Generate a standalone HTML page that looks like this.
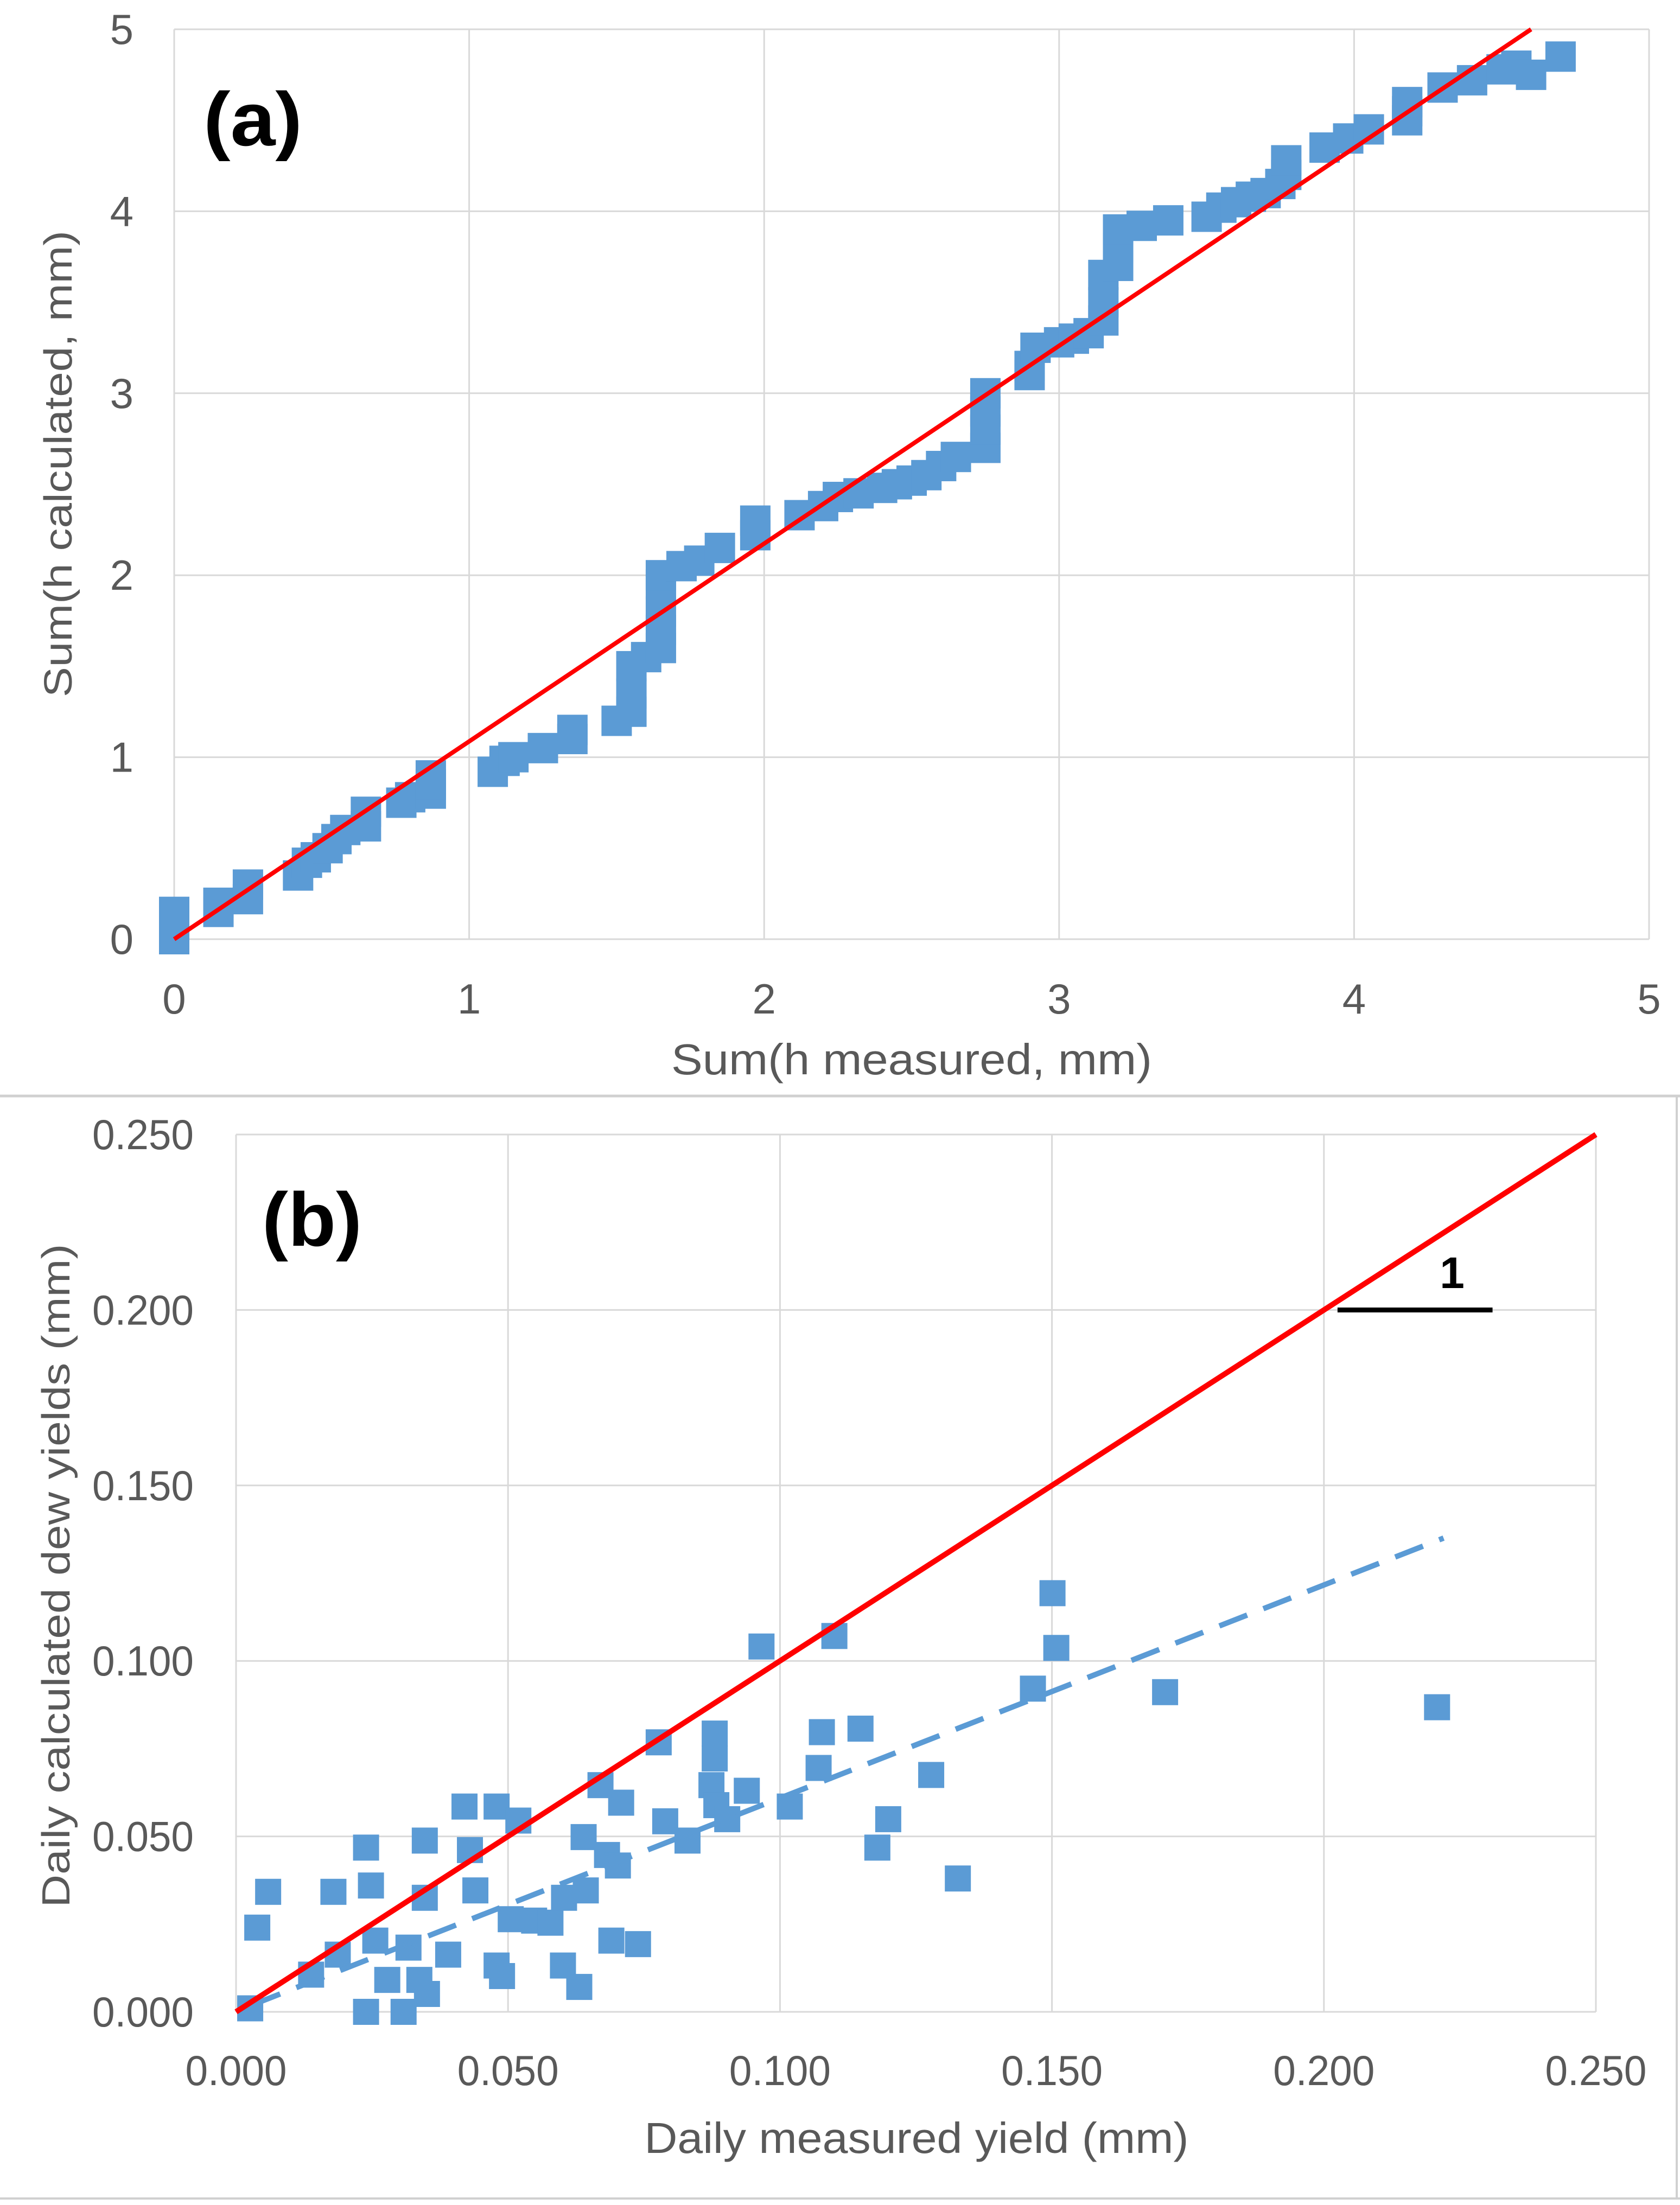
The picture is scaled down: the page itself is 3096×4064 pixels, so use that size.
<!DOCTYPE html>
<html><head><meta charset="utf-8"><style>
html,body{margin:0;padding:0;background:#fff;}
svg{display:block;}
text{font-family:"Liberation Sans Narrow","Liberation Sans",sans-serif;}
</style></head><body>
<svg id="chart" xmlns="http://www.w3.org/2000/svg" width="3096" height="4064" viewBox="0 0 3096 4064">
<rect x="0" y="0" width="3096" height="4064" fill="#fff"/>
<line x1="0" y1="2020" x2="3096" y2="2020" stroke="#d0d0d0" stroke-width="5"/>
<line x1="3090" y1="2020" x2="3090" y2="4052" stroke="#d0d0d0" stroke-width="4"/>
<line x1="0" y1="4052" x2="3096" y2="4052" stroke="#d0d0d0" stroke-width="4"/>
<g id="pa"></g>
<g id="pb"></g>
</svg>
<script>
// Panel (a) data
const aTicks = [0,1,2,3,4,5];
const aX = [0,0,0,0,0.15,0.15,0.25,0.25,0.42,0.45,0.48,0.52,0.55,0.58,0.65,0.65,0.77,0.8,0.87,0.87,0.87,1.08,1.12,1.15,1.25,1.35,1.35,1.5,1.55,1.55,1.55,1.6,1.65,1.65,1.65,1.65,1.65,1.72,1.78,1.85,1.97,1.97,2.12,2.2,2.25,2.32,2.4,2.45,2.5,2.55,2.6,2.65,2.75,2.75,2.75,2.75,2.9,2.9,2.92,3.0,3.05,3.1,3.15,3.15,3.15,3.2,3.2,3.2,3.28,3.37,3.5,3.55,3.6,3.65,3.7,3.75,3.77,3.77,3.9,3.98,4.05,4.18,4.18,4.18,4.3,4.4,4.5,4.55,4.6,4.7];
const aY = [0,0.05,0.1,0.15,0.15,0.2,0.22,0.3,0.35,0.42,0.45,0.5,0.55,0.6,0.62,0.7,0.75,0.78,0.8,0.85,0.9,0.92,0.98,1.0,1.05,1.1,1.15,1.2,1.25,1.35,1.5,1.55,1.6,1.7,1.8,1.95,2.0,2.05,2.08,2.15,2.22,2.3,2.33,2.38,2.43,2.45,2.48,2.5,2.52,2.55,2.6,2.65,2.7,2.8,2.9,3.0,3.1,3.15,3.25,3.28,3.3,3.33,3.4,3.5,3.65,3.7,3.8,3.9,3.92,3.95,3.97,4.02,4.05,4.08,4.1,4.15,4.2,4.28,4.35,4.4,4.45,4.5,4.55,4.6,4.68,4.72,4.78,4.8,4.75,4.85];
const aLine = [0,4.6];
const aLineY = [0,5];
// Panel (b) data
const bTicks = [0,0.05,0.1,0.15,0.2,0.25];
const bTickLabels = ["0.000","0.050","0.100","0.150","0.200","0.250"];
const bX = [0.0026,0.0039,0.0059,0.0138,0.0179,0.0187,0.0239,0.0239,0.0248,0.0256,0.0278,0.0308,0.0317,0.0337,0.0347,0.0347,0.0351,0.0390,0.0420,0.0430,0.0440,0.0479,0.0479,0.0489,0.0505,0.0519,0.0548,0.0578,0.0601,0.0603,0.0631,0.0639,0.0643,0.0670,0.0682,0.0690,0.0702,0.0708,0.0739,0.0777,0.0789,0.0830,0.0874,0.0880,0.0880,0.0883,0.0903,0.0939,0.0966,0.1018,0.1071,0.1077,0.1100,0.1148,0.1179,0.1199,0.1278,0.1327,0.1465,0.1501,0.1508,0.1708,0.2208];
const bY = [0.0010,0.0240,0.0342,0.0106,0.0342,0.0163,0.0468,0.0,0.0360,0.0203,0.0091,0.0,0.0183,0.0091,0.0488,0.0325,0.0051,0.0163,0.0585,0.0461,0.0346,0.0132,0.0585,0.0102,0.0264,0.0545,0.0260,0.0254,0.0132,0.0325,0.0071,0.0498,0.0346,0.0646,0.0447,0.0203,0.0417,0.0596,0.0193,0.0768,0.0543,0.0488,0.0646,0.0793,0.0722,0.0589,0.0549,0.0630,0.1041,0.0585,0.0695,0.0797,0.1071,0.0807,0.0468,0.0549,0.0675,0.0380,0.0921,0.1193,0.1037,0.0911,0.0868];
const bTrendX = [0.003,0.222];
const bTrendY = [0.002,0.135];
const bOneX = [0.0,0.25];
const bRefX = [0.2025,0.231];
const bRefY = [0.2,0.2];

const NS="http://www.w3.org/2000/svg";
function mk(parent,tag,attrs,txt){const e=document.createElementNS(NS,tag);for(const k in attrs)e.setAttribute(k,attrs[k]);if(txt!==undefined)e.textContent=txt;parent.appendChild(e);return e;}

// ---- Panel A ----
const pa=document.getElementById('pa');
const ax=v=>321+v*(3039-321)/5, ay=v=>1731-v*(1731-54)/5;
aTicks.forEach(t=>{
  const g1=mk(pa,'line',{x1:ax(t),y1:ay(0),x2:ax(t),y2:ay(5),stroke:'#d9d9d9','stroke-width':3});
  
  
  const g2=mk(pa,'line',{x1:ax(0),y1:ay(t),x2:ax(5),y2:ay(t),stroke:'#d9d9d9','stroke-width':3});
  
  
  const xl=mk(pa,'text',{x:ax(t),y:1868,'font-size':78,fill:'#595959','text-anchor':'middle'},String(t));
  
  
  const yl=mk(pa,'text',{x:246,y:ay(t)+27,'font-size':78,fill:'#595959','text-anchor':'end'},String(t));
  
  
});
const aS=56;
aX.forEach((v,i)=>{
  const r=mk(pa,'rect',{x:ax(v)-aS/2,y:ay(aY[i])-aS/2,width:aS,height:aS,fill:'#5b9bd5'});
  
  
});
const al=mk(pa,'line',{x1:ax(aLine[0]),y1:ay(aLineY[0]),x2:ax(aLine[1]),y2:ay(aLineY[1]),stroke:'#ff0000','stroke-width':8});


const atx=mk(pa,'text',{x:1680,y:1980,'font-size':80,fill:'#595959','text-anchor':'middle',textLength:886,lengthAdjust:'spacingAndGlyphs'},'Sum(h  measured, mm)');


const aty=mk(pa,'text',{x:0,y:0,'font-size':72,fill:'#595959','text-anchor':'middle',transform:'translate(132,855) rotate(-90)',textLength:860,lengthAdjust:'spacingAndGlyphs',style:'font-family:"Liberation Sans",sans-serif'},'Sum(h calculated, mm)');


const alab=mk(pa,'text',{x:466,y:268,'font-size':140,'font-weight':'bold',fill:'#000','text-anchor':'middle',textLength:182,lengthAdjust:'spacingAndGlyphs'},'(a)');



// ---- Panel B ----
const pb=document.getElementById('pb');
const bx=v=>435+v*(2941-435)/0.25, by=v=>3708-v*(3708-2091)/0.25;
bTicks.forEach((t,i)=>{
  const g1=mk(pb,'line',{x1:bx(t),y1:by(0),x2:bx(t),y2:by(0.25),stroke:'#d9d9d9','stroke-width':3});
  
  
  const g2=mk(pb,'line',{x1:bx(0),y1:by(t),x2:bx(0.25),y2:by(t),stroke:'#d9d9d9','stroke-width':3});
  
  
  const xl=mk(pb,'text',{x:bx(t),y:3843,'font-size':78,fill:'#595959','text-anchor':'middle',textLength:187,lengthAdjust:'spacingAndGlyphs'},bTickLabels[i]);
  
  
  const yl=mk(pb,'text',{x:170,y:by(t)+27,'font-size':78,fill:'#595959','text-anchor':'start',textLength:187,lengthAdjust:'spacingAndGlyphs'},bTickLabels[i]);
  
  
});
const bS=48;
bX.forEach((v,i)=>{
  const r=mk(pb,'rect',{x:bx(v)-bS/2,y:by(bY[i])-bS/2,width:bS,height:bS,fill:'#5b9bd5'});
  
  
});
const tl=mk(pb,'line',{x1:bx(bTrendX[0]),y1:by(bTrendY[0]),x2:bx(bTrendX[1]),y2:by(bTrendY[1]),stroke:'#5b9bd5','stroke-width':10,'stroke-dasharray':'55 32'});


const bl=mk(pb,'line',{x1:bx(bOneX[0]),y1:by(bOneX[0]),x2:bx(bOneX[1]),y2:by(bOneX[1]),stroke:'#ff0000','stroke-width':10});


const rl=mk(pb,'line',{x1:bx(bRefX[0]),y1:by(bRefY[0]),x2:bx(bRefX[1]),y2:by(bRefY[1]),stroke:'#000','stroke-width':9});


const one=mk(pb,'text',{x:2676,y:2374,'font-size':82,'font-weight':'bold',fill:'#000','text-anchor':'middle'},'1');


const btx=mk(pb,'text',{x:1689,y:3968,'font-size':80,fill:'#595959','text-anchor':'middle',textLength:1003,lengthAdjust:'spacingAndGlyphs'},'Daily measured  yield (mm)');


const bty=mk(pb,'text',{x:0,y:0,'font-size':72,fill:'#595959','text-anchor':'middle',transform:'translate(128,2904) rotate(-90)',textLength:1223,lengthAdjust:'spacingAndGlyphs',style:'font-family:"Liberation Sans",sans-serif'},'Daily calculated dew yields (mm)');


const blab=mk(pb,'text',{x:575,y:2296,'font-size':140,'font-weight':'bold',fill:'#000','text-anchor':'middle',textLength:184,lengthAdjust:'spacingAndGlyphs'},'(b)');


</script>
</body></html>
